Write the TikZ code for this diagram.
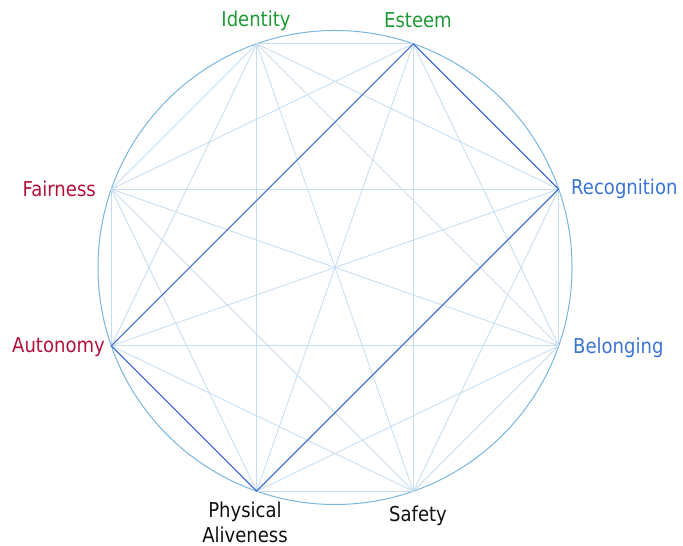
\documentclass[tikz,border=0pt]{standalone}
\usepackage{fontspec}
\setmainfont{DejaVu Sans}[FakeStretch=0.88]
\definecolor{ringc}{HTML}{7AB6E0}
\definecolor{faintc}{HTML}{C6DDF1}
\definecolor{hic}{HTML}{4C74D4}
\definecolor{greenc}{HTML}{1E9A35}
\definecolor{redc}{HTML}{B5103A}
\definecolor{bluec}{HTML}{3A74D6}
\definecolor{blackc}{HTML}{111111}
\begin{document}
\begin{tikzpicture}[x=1pt,y=1pt,
  ring/.style={draw=ringc,line width=1pt},
  faint/.style={draw=faintc,line width=0.85pt},
  hiline/.style={draw=hic,line width=1.2pt},
  lab/.style={font=\fontsize{20.5}{25}\selectfont,inner sep=0pt,align=center}]
\useasboundingbox (0,0) rectangle (683,546);
\coordinate (C) at (335,278.5);
\draw[ring] (C) circle (237);
\coordinate (Es) at ([shift={(70.7:237)}]C);
\coordinate (Id) at ([shift={(109.3:237)}]C);
\coordinate (Fa) at ([shift={(160.7:237)}]C);
\coordinate (Au) at ([shift={(199.3:237)}]C);
\coordinate (PA) at ([shift={(250.7:237)}]C);
\coordinate (Sa) at ([shift={(289.3:237)}]C);
\coordinate (Be) at ([shift={(340.7:237)}]C);
\coordinate (Re) at ([shift={(19.3:237)}]C);
\foreach \a/\b in {Es/Id,Es/Fa,Es/Au,Es/PA,Es/Sa,Es/Be,Es/Re,
                   Id/Fa,Id/Au,Id/PA,Id/Sa,Id/Be,Id/Re,
                   Fa/Au,Fa/PA,Fa/Sa,Fa/Be,Fa/Re,
                   Au/PA,Au/Sa,Au/Be,Au/Re,
                   PA/Sa,PA/Be,PA/Re,
                   Sa/Be,Sa/Re,
                   Be/Re}
  \draw[faint] (\a) -- (\b);
\draw[hiline] (Es) -- (Re) -- (PA) -- (Au) -- cycle;
\node[lab,text=greenc] (tId) at (256,525.5) {Identity};
\node[lab,text=greenc] (tEs) at (418,525.5) {Esteem};
\node[lab,text=bluec,anchor=west] (tRe) at (571,357) {Recognition};
\node[lab,text=bluec,anchor=west] (tBe) at (573,198) {Belonging};
\node[lab,text=redc,anchor=east] (tFa) at (96,357) {Fairness};
\node[lab,text=redc,anchor=east] (tAu) at (105,198.5) {Autonomy};
\node[lab,text=blackc] (tPA) at (245,24) {Physical\\Aliveness};
\node[lab,text=blackc] (tSa) at (418,30) {Safety};
\end{tikzpicture}
\end{document}
